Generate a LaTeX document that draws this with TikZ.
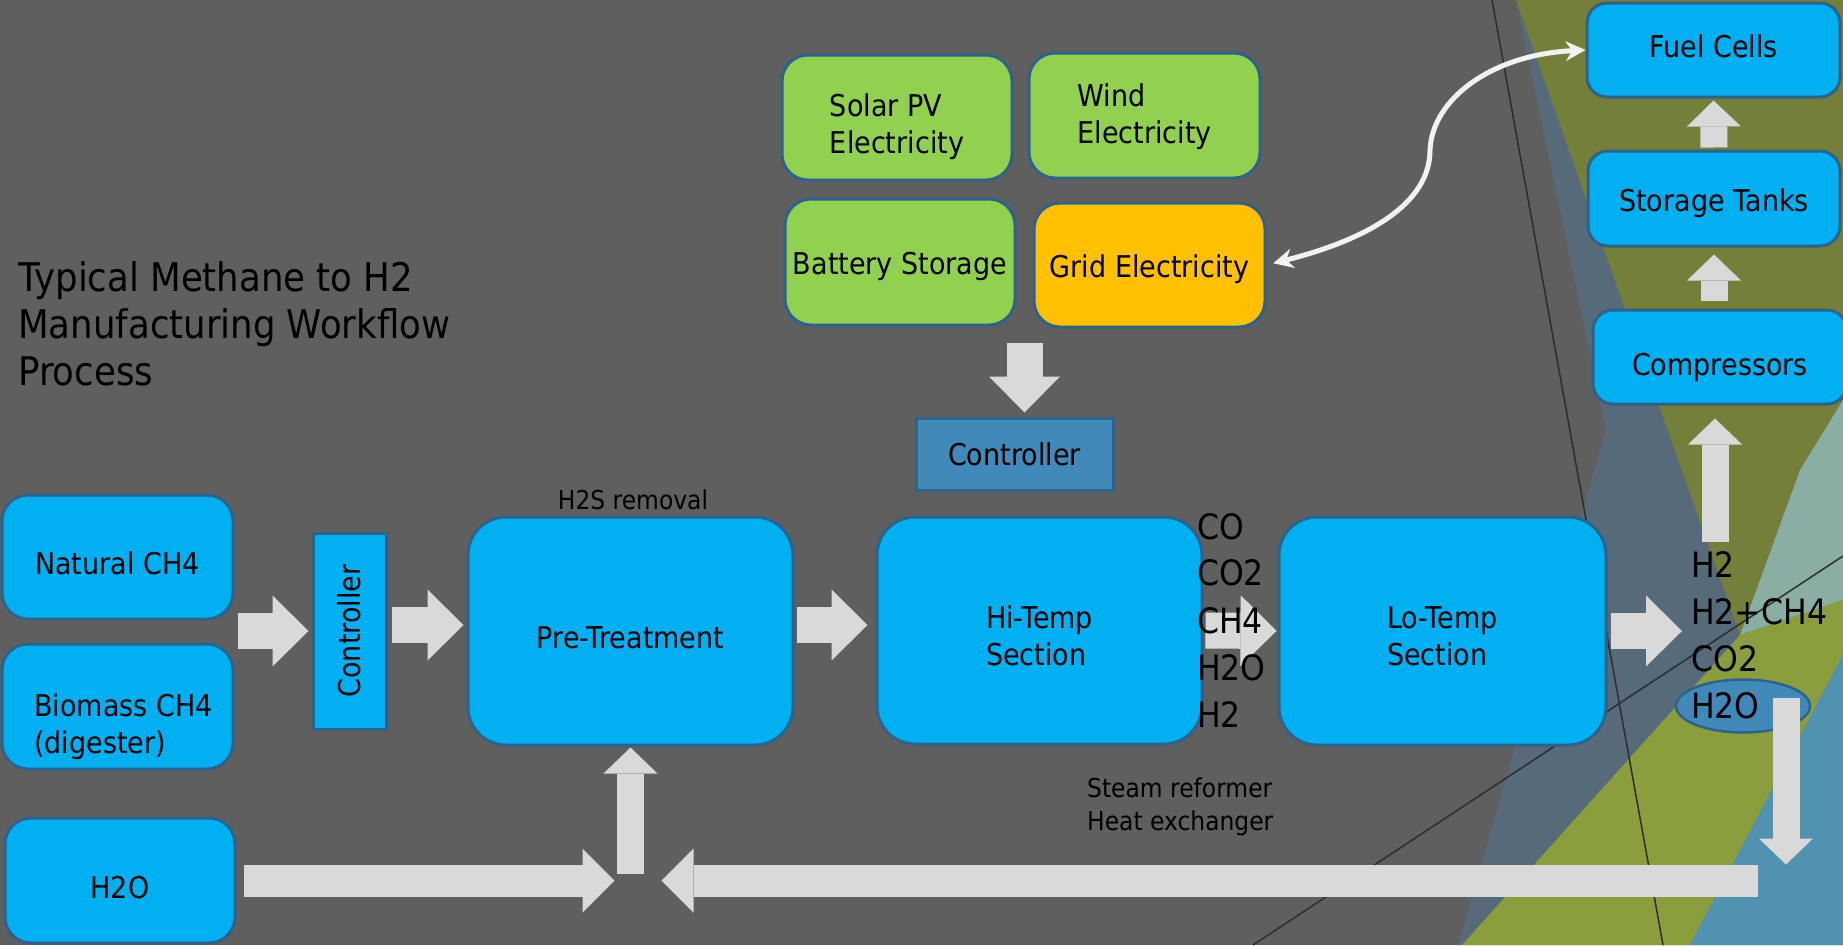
\documentclass[tikz,border=0pt]{standalone}
\usepackage{fontspec}
\usepackage{graphicx}
\setmainfont{DejaVu Sans}[FakeStretch=0.9]
\usetikzlibrary{arrows.meta,shapes.geometric,calc}
\definecolor{slide}{RGB}{95,95,95}
\definecolor{slate}{RGB}{86,106,121}
\definecolor{moss}{RGB}{116,128,58}
\definecolor{lime}{RGB}{138,158,62}
\definecolor{sea}{RGB}{80,146,176}
\definecolor{mist}{RGB}{138,174,163}
\definecolor{sky}{RGB}{0,176,240}
\definecolor{rim}{RGB}{46,98,138}
\definecolor{leaf}{RGB}{146,208,80}
\definecolor{amber}{RGB}{255,192,0}
\definecolor{steel}{RGB}{64,137,184}
\definecolor{pale}{RGB}{217,217,217}
\definecolor{snow}{RGB}{242,242,242}
\definecolor{seam}{RGB}{45,45,45}

\begin{document}
\begin{tikzpicture}[x=1pt,y=-1pt,
		unit/.style={draw=rim,line width=3pt,fill=sky,rounded corners=26pt,align=left,text height=35pt,text depth=0pt,font=\fontsize{30}{37}\selectfont},
		twoline/.style={text height=69pt},
		power/.style={unit,fill=leaf},
		ctrl/.style={draw=rim,line width=3pt,fill=steel,font=\fontsize{30}{37}\selectfont},
		tag/.style={align=left,inner sep=0pt,font=\fontsize{30}{37}\selectfont},
		gas/.style={align=left,inner sep=0pt,font=\fontsize{35}{47}\selectfont},
		note/.style={align=left,inner sep=0pt,font=\fontsize{26}{33}\selectfont},
		flow/.style={draw=pale,line width=36pt,-{Triangle[length=36pt,width=71pt,line width=0pt]}},
		pipe/.style={draw=pale,line width=32pt,-{Triangle[length=32pt,width=64pt,line width=0pt]}},
		riser/.style={draw=pale,line width=27pt,-{Triangle[length=26pt,width=54pt,line width=0pt]}},
		link/.style={draw=snow,line width=5pt,{Stealth[length=20pt,width=20pt,line width=0pt]}-{Stealth[length=20pt,width=20pt,line width=0pt]}}]
		\useasboundingbox (0,0) rectangle (1843,945);
		\fill[slide] (0,0) rectangle (1843,945);
		\fill[slate] (1516,0) -- (1606,430) -- (1458,945) -- (1843,945) -- (1843,0) -- cycle;
		\fill[moss] (1516,0) -- (1843,0) -- (1843,400) -- (1800,470) -- (1740,635) -- cycle;
		\fill[mist] (1843,400) -- (1843,600) -- (1740,635) -- (1800,470) -- cycle;
		\fill[lime] (1462,945) -- (1690,945) -- (1843,655) -- (1843,600) -- (1740,635) -- cycle;
		\fill[sea] (1690,945) -- (1843,945) -- (1843,655) -- cycle;
		\draw[seam,line width=1.5pt] (1492,0) -- (1663,945);
		\draw[seam,line width=1.5pt] (1253,945) -- (1843,556);

		\node[anchor=west,align=left,inner sep=0pt,font=\fontsize{39.5}{47}\selectfont] (title) at (18,324) {Typical Methane to H2\\Manufacturing Workflow\\Process};

		\node[unit,minimum width=231pt,minimum height=124pt] (nat) at (117.5,557) {Natural CH4};
		\node[unit,minimum width=231pt,minimum height=125pt] (bio) at (117.5,706.5) {};
		\node[tag,anchor=west] (biotext) at (34,727) {Biomass CH4\\(digester)};
		\node[unit,minimum width=230pt,minimum height=125pt] (h2o) at (120,880.5) {H2O};
		\node[ctrl,fill=sky,minimum width=73pt,minimum height=196pt] (ctrlA) at (349.5,631) {\rotatebox{90}{Controller}};
		\node[unit,rounded corners=38pt,minimum width=325pt,minimum height=228pt] (pre) at (630.5,631) {Pre-Treatment};
		\node[unit,twoline,rounded corners=38pt,minimum width=325pt,minimum height=227pt] (hi) at (1039.5,630.5) {Hi-Temp\\Section};
		\node[unit,twoline,rounded corners=38pt,minimum width=327pt,minimum height=228pt] (lo) at (1442.5,631) {Lo-Temp\\Section};
		\node[ctrl,minimum width=197pt,minimum height=72pt] (ctrlB) at (1014.5,454) {Controller};
		\node[power,text height=72pt,minimum width=230pt,minimum height=125pt] (solar) at (897,117.5) {Solar PV\\Electricity};
		\node[power,text height=56pt,minimum width=231pt,minimum height=125pt] (wind) at (1144.5,115.5) {Wind\\Electricity};
		\node[power,text height=24pt,minimum width=230pt,minimum height=126pt] (batt) at (900,262) {Battery Storage};
		\node[power,text height=24pt,fill=amber,minimum width=231pt,minimum height=124pt] (grid) at (1149.5,265) {Grid Electricity};
		\node[unit,text height=15pt,rounded corners=20pt,minimum width=253pt,minimum height=94pt] (fuel) at (1713.5,50) {Fuel Cells};
		\node[unit,text height=26pt,rounded corners=20pt,minimum width=252pt,minimum height=95pt] (tanks) at (1714,198.5) {Storage Tanks};
		\node[unit,text height=37pt,rounded corners=20pt,minimum width=254pt,minimum height=94pt] (comp) at (1720,357) {Compressors};
		\node[ellipse,draw=rim,line width=2.5pt,fill=steel,minimum width=134pt,minimum height=53pt] (h2oring) at (1743,706) {};

		\coordinate (feed) at ($(batt.south east)!0.5!(grid.south west)$);
		\coordinate (mix) at (pre.south |- h2o.east);
		\coordinate (h2top) at (1715,542);
		\coordinate (drop) at (1786,698);
		\coordinate (retR) at (1758,880.5);

		\draw[flow,shorten <=3pt,shorten >=3pt] (ctrlA.west -| nat.east) -- (ctrlA.west);
		\draw[flow,shorten <=4pt,shorten >=3pt] ([yshift=6pt]ctrlA.east) -- ([yshift=6pt]ctrlA.east -| pre.west);
		\draw[flow,shorten <=2pt,shorten >=8pt] ([yshift=6pt]pre.east) -- ([yshift=6pt]pre.east -| hi.west);
		\draw[flow,shorten <=2pt,shorten >=1pt] (hi.east) -- (lo.west);
		\draw[flow,shorten <=15pt,shorten >=4pt] (feed) -- (feed |- ctrlB.north);
		\draw[riser,shorten >=13pt] (h2top) -- (h2top |- comp.south);
		\draw[riser,shorten <=8pt,shorten >=7pt] (tanks.south |- comp.north) -- (tanks.south);
		\draw[riser,shorten <=2pt,shorten >=2pt] (tanks.north) -- (fuel.south);
		\draw[pipe,shorten <=7pt,shorten >=16pt] (h2o.east) -- (mix);
		\draw[pipe,shorten >=31pt] (retR) -- (mix);
		\draw[riser,shorten <=7pt,shorten >=1pt] (mix) -- (pre.south);
		\draw[link,shorten <=7pt] (grid.east) .. controls (1365,240) and (1430,205) .. (1430,150) .. controls (1432,100) and (1490,55) .. (fuel.west);

		\node[note,anchor=south] (h2s) at (633,510) {H2S removal};
		\node[note,anchor=west] (steam) at (1087,807) {Steam reformer\\Heat exchanger};
		\node[gas,anchor=west] (midsp) at (1197,620) {CO\\CO2\\CH4\\H2O\\H2};
		\node[gas,anchor=west] (outsp) at (1691,635) {H2\\H2+CH4\\CO2\\H2O};
		\draw[flow,shorten <=3pt,shorten >=9pt] (lo.east) -- (lo.east -| outsp.west);
		\draw[riser,shorten >=16pt] (drop) -- (drop |- retR);
	\end{tikzpicture}
\end{document}
